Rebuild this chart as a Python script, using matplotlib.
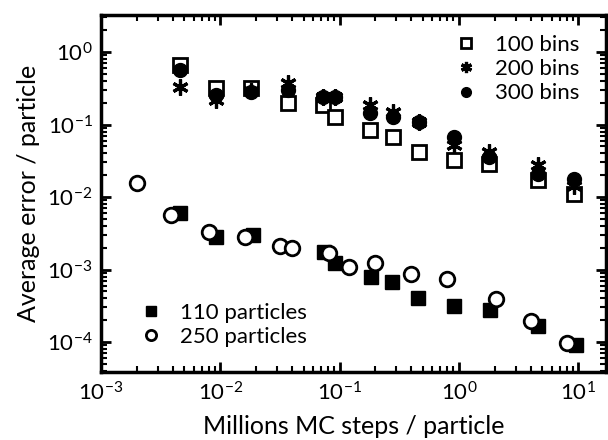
import numpy as np
from matplotlib import pyplot as plt
from matplotlib.ticker import LogLocator, FuncFormatter

#values (log-log, so read as powers of ten)
steps_bins = [0.0046, 0.0092, 0.018, 0.037, 0.073, 0.092, 0.18, 0.28, 0.46, 0.92, 1.8, 4.6, 9.2]
err_100bins = [0.66, 0.32, 0.32, 0.196, 0.186, 0.128, 0.084, 0.068, 0.042, 0.032, 0.029, 0.017, 0.011]
err_200bins = [0.33, 0.22, 0.29, 0.37, 0.24, 0.24, 0.186, 0.15, 0.109, 0.052, 0.042, 0.028, 0.014]
err_300bins = [0.56, 0.255, 0.28, 0.30, 0.24, 0.24, 0.143, 0.128, 0.109, 0.068, 0.036, 0.021, 0.018]

steps_110 = [0.0046, 0.0092, 0.0188, 0.074, 0.092, 0.185, 0.277, 0.458, 0.91, 1.83, 4.64, 9.6]
err_110 = [0.0061, 0.00284, 0.0030, 0.00176, 0.00122, 0.00080, 0.00068, 0.00041, 0.00031, 0.00028, 0.000168, 0.000091]

steps_250 = [0.002, 0.0039, 0.008, 0.016, 0.0319, 0.040, 0.081, 0.12, 0.20, 0.40, 0.80, 2.05, 4.03, 8.1]
err_250 = [0.0155, 0.00565, 0.00332, 0.00284, 0.00211, 0.00196, 0.00167, 0.00109, 0.00122, 0.00086, 0.00073, 0.00039, 0.000197, 0.000096]

plt.rcParams['font.family'] = ['Lato', 'DejaVu Sans']
plt.rcParams['mathtext.default'] = 'regular'

fig = plt.figure(figsize=(6.08, 4.4), dpi=100)
ax = fig.add_axes([0.166, 0.1545, 0.831, 0.8114])

ms = 9.5
asterisk = (6, 2, 0)

#bins series
h100, = ax.plot(steps_bins, err_100bins, 's', ms=ms, mfc='white', mec='black', mew=2, label='100 bins')
h200, = ax.plot(steps_bins, err_200bins, marker=asterisk, ls='none', ms=ms + 2, mec='black', mew=2.3, label='200 bins')
h300, = ax.plot(steps_bins, err_300bins, 'o', ms=ms + 0.5, mfc='black', mec='black', label='300 bins')

#particle series
h110, = ax.plot(steps_110, err_110, 's', ms=ms, mfc='black', mec='black', label='110 particles')
h250, = ax.plot(steps_250, err_250, 'o', ms=ms + 1, mfc='white', mec='black', mew=2, label='250 particles')

ax.set_xscale('log')
ax.set_yscale('log')
ax.set_xlim(1e-3, 17.2)
ax.set_ylim(3.86e-5, 3.24)

ax.xaxis.set_major_locator(LogLocator(base=10, numticks=10))
ax.yaxis.set_major_locator(LogLocator(base=10, numticks=10))
ax.xaxis.set_minor_locator(LogLocator(base=10, subs=np.arange(2, 10), numticks=20))
ax.yaxis.set_minor_locator(LogLocator(base=10, subs=np.arange(2, 10), numticks=20))

def powlabel(v, pos):
    return r'$\mathregular{10^{%d}}$' % int(round(np.log10(v)))

ax.xaxis.set_major_formatter(FuncFormatter(powlabel))
ax.yaxis.set_major_formatter(FuncFormatter(powlabel))

ax.tick_params(which='both', direction='in', top=True, right=True, labelsize=16)
ax.tick_params(which='major', length=7, width=2)
ax.tick_params(which='minor', length=4, width=1.5)
ax.tick_params(axis='x', pad=7)
ax.tick_params(axis='y', pad=6)
for s in ax.spines.values():
    s.set_linewidth(2.5)

ax.set_xlabel('Millions MC steps / particle', fontsize=18, labelpad=7)
ax.set_ylabel('Average error / particle', fontsize=18, labelpad=5)

leg1 = ax.legend(handles=[h100, h200, h300], loc='upper right', bbox_to_anchor=(0.965, 0.97),
                 frameon=False, fontsize=16, markerscale=0.7, handlelength=1.0,
                 handletextpad=0.8, labelspacing=0.2, borderaxespad=0)
ax.add_artist(leg1)
ax.legend(handles=[h110, h250], loc='lower left', bbox_to_anchor=(0.06, 0.045),
          frameon=False, fontsize=16, markerscale=0.7, handlelength=1.0,
          handletextpad=0.8, labelspacing=0.2, borderaxespad=0)

plt.savefig('out.png', dpi=100)
